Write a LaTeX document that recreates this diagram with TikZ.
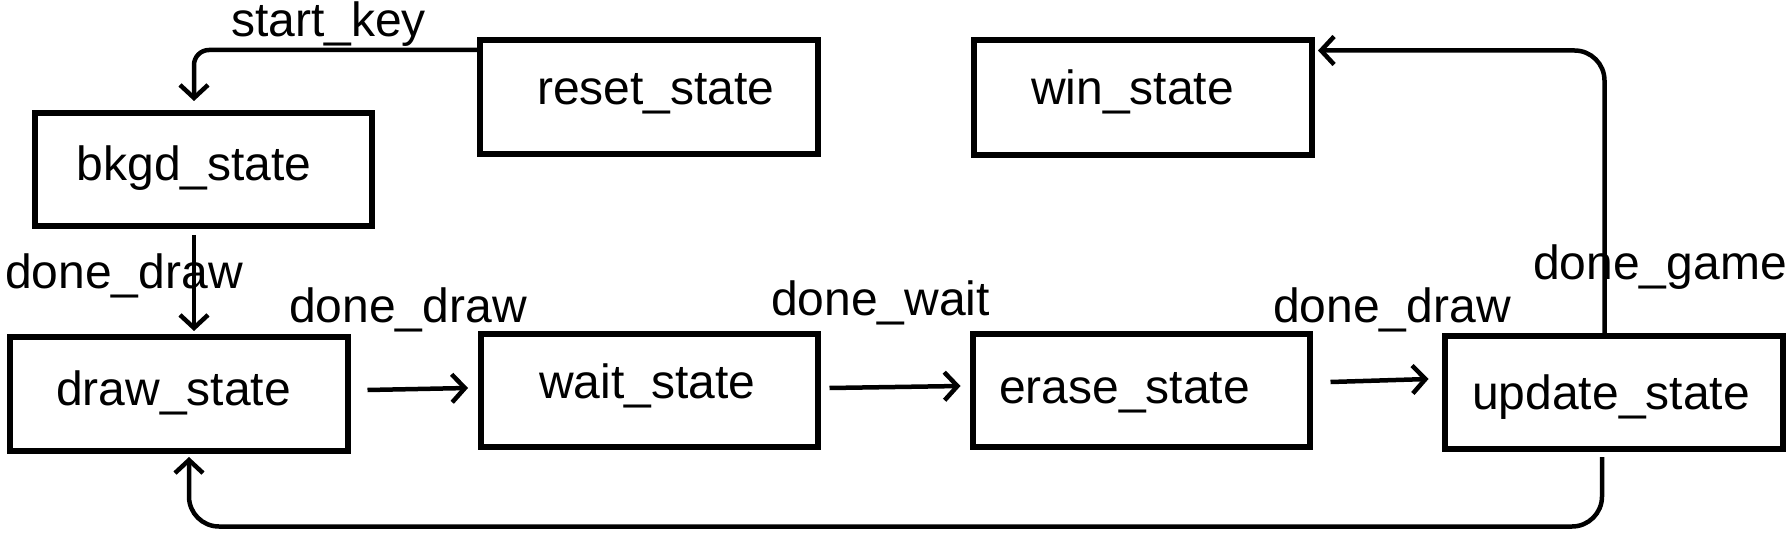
\documentclass[tikz,border=0pt]{standalone}
\usepackage{fontspec}
\setmainfont{Liberation Sans}
\usetikzlibrary{arrows.meta}
\begin{document}
\begin{tikzpicture}[x=1pt,y=-1pt,
  box/.style={draw=black,line width=6pt,rectangle,inner sep=0pt},
  txt/.style={anchor=base west,inner sep=0pt,font=\fontsize{48pt}{56pt}\selectfont},
  arr/.style={line width=4.5pt,-{Straight Barb[length=13pt,width=28pt]}}]
\useasboundingbox (0,0) rectangle (1791,540);
% boxes
\node[box,minimum width=338pt,minimum height=114pt] (reset) at (649,97) {};
\node[box,minimum width=337pt,minimum height=113pt] (bkgd) at (203,169.5) {};
\node[box,minimum width=338pt,minimum height=115pt] (win) at (1143,97.5) {};
\node[box,minimum width=338pt,minimum height=114pt] (draw) at (179,394) {};
\node[box,minimum width=337pt,minimum height=113pt] (wait) at (649.5,390.5) {};
\node[box,minimum width=337pt,minimum height=113pt] (erase) at (1141.5,390.5) {};
\node[box,minimum width=338pt,minimum height=113pt] (update) at (1614,392.5) {};
% box texts
\node[txt] (resett) at (537,105) {reset\_state};
\node[txt] (bkgdt) at (76.5,181) {bkgd\_state};
\node[txt] (drawt) at (56,405) {draw\_state};
\node[txt] (waitt) at (539,398) {wait\_state};
\node[txt] (wint) at (1031,105) {win\_state};
\node[txt] (eraset) at (999,403) {erase\_state};
\node[txt] (updatet) at (1472,409) {update\_state};
% connector labels
\node[txt] (l1) at (231,37) {start\_key};
\node[txt] (l2) at (5,288) {done\_draw};
\node[txt] (l3) at (289,322) {done\_draw};
\node[txt] (l4) at (771,315) {done\_wait};
\node[txt] (l5) at (1273,322) {done\_draw};
\node[txt] (l6) at (1533,279) {done\_game};
% connectors
\draw[arr,rounded corners=15pt] ([yshift=-13pt]reset.north west) -| ([xshift=-9pt,yshift=9pt]bkgd.north);
\draw[arr] ([xshift=-9pt,yshift=-6pt]bkgd.south) -- ([xshift=15pt,yshift=3pt]draw.north);
\draw[arr] ([xshift=16.5pt,yshift=4pt]draw.east) -- ([xshift=-10pt,yshift=2.5pt]wait.west);
\draw[arr] ([xshift=8.5pt,yshift=2.5pt]wait.east) -- ([xshift=-9.5pt,yshift=4.5pt]erase.west);
\draw[arr] ([xshift=17.5pt,yshift=8.5pt]erase.east) -- ([xshift=-13.5pt,yshift=13.5pt]update.west);
\draw[arr,rounded corners=30pt] ([xshift=-9.5pt]update.north) |- ([xshift=3pt,yshift=-13.5pt]win.north east);
\draw[arr,rounded corners=30pt] ([xshift=-12pt,yshift=-5pt]update.south) |- ([xshift=10pt,yshift=-72.5pt]draw.south) -- ([xshift=10pt,yshift=-3pt]draw.south);
\end{tikzpicture}
\end{document}
